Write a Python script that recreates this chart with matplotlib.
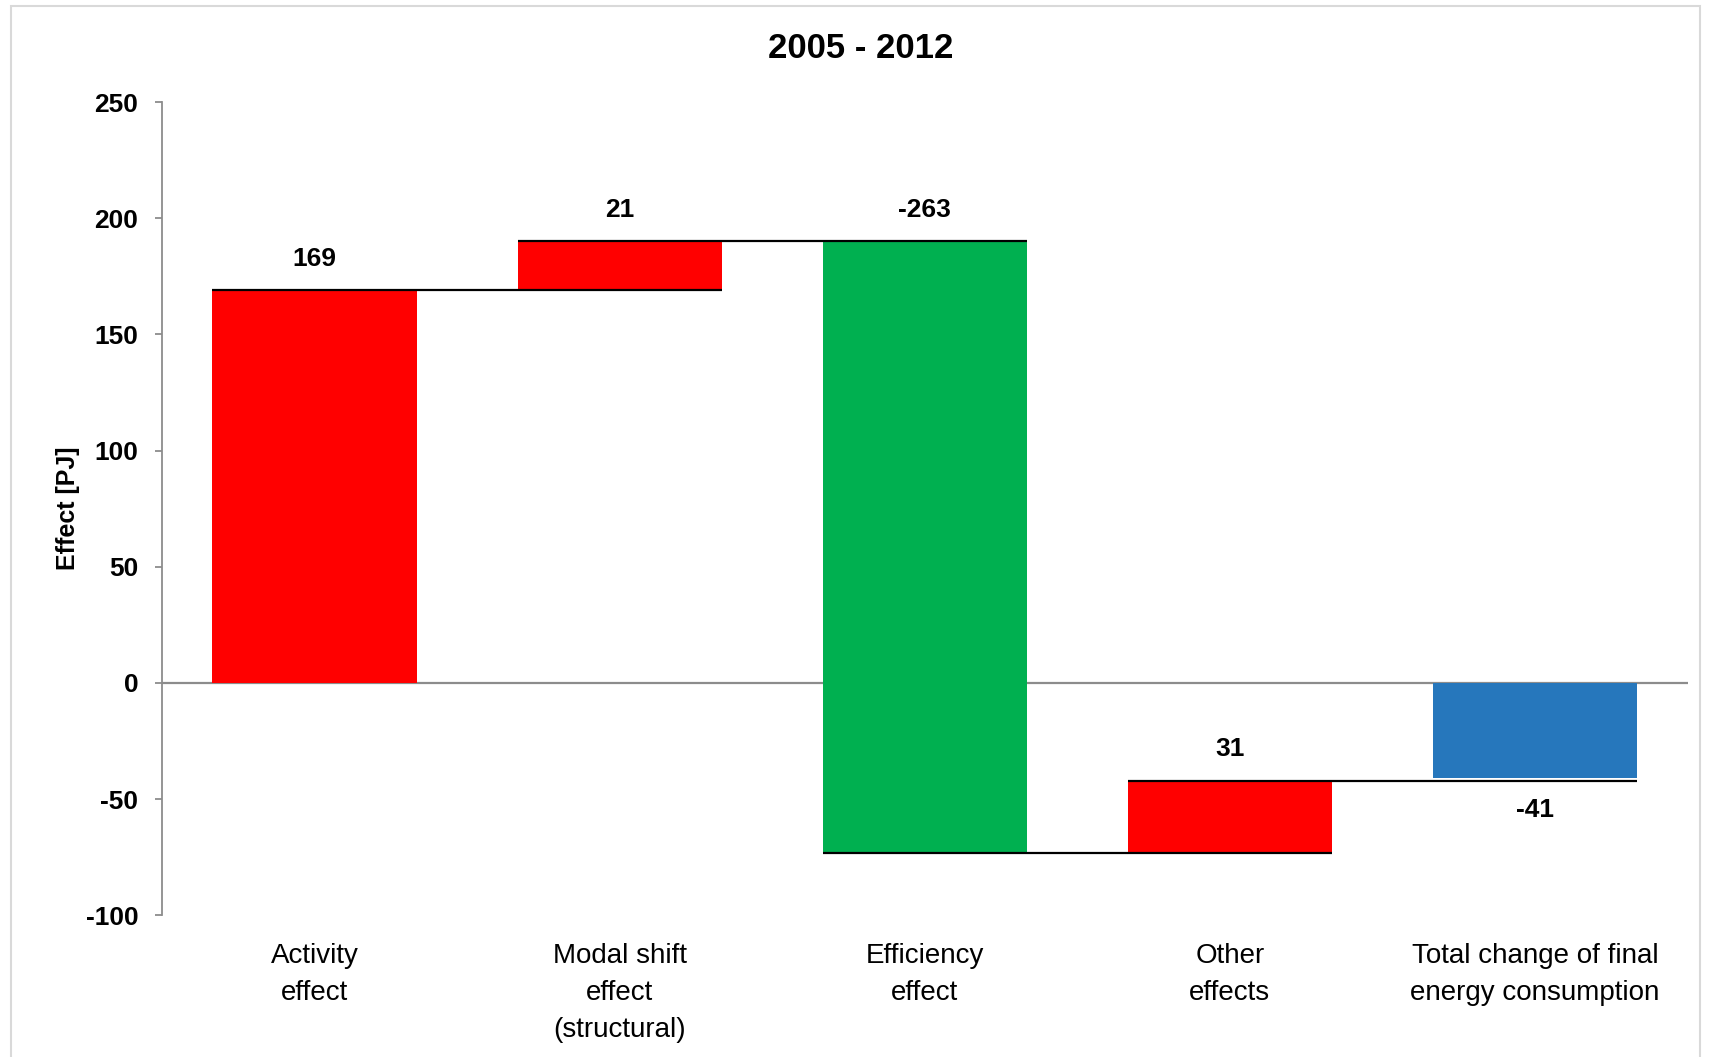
import matplotlib
matplotlib.use('Agg')
import matplotlib.pyplot as plt
from matplotlib.patches import Rectangle

plt.rcParams['font.family'] = ['Liberation Sans', 'DejaVu Sans']
plt.rcParams['axes.unicode_minus'] = False

title = '2005 - 2012'
categories = ['Activity\neffect', 'Modal shift\neffect\n(structural)', 'Efficiency\neffect',
              'Other\neffects', 'Total change of final\nenergy consumption']
effects = [169, 21, -263, 31]   # decomposition steps
total = -41                      # total change of final energy consumption
effect_colors = ['#ff0000', '#ff0000', '#00b050', '#ff0000']
total_color = '#2677bc'
yticks = [-100, -50, 0, 50, 100, 150, 200, 250]

fig = plt.figure(figsize=(17.15, 10.57), dpi=100)
ax = fig.add_axes([0.0945, 0.134, 0.8895, 0.7695])

# light chart-area border like in excel
fig.patches.append(Rectangle((0.0064, -0.05), 0.9848, 1.044, transform=fig.transFigure,
                             fill=False, edgecolor='#d9d9d9', linewidth=1.5))

w = 0.67
# running levels of the waterfall
levels = [0]
for e in effects:
    levels.append(levels[-1] + e)

for i, e in enumerate(effects):
    ax.bar(i, e, bottom=levels[i], width=w, color=effect_colors[i], zorder=2)
    top = max(levels[i], levels[i + 1])
    ax.annotate(str(e), (i, top), xytext=(0, 14), textcoords='offset points',
                ha='center', va='bottom', fontsize=19, fontweight='bold')

n = len(effects)
ax.bar(n, total, width=w, color=total_color, zorder=2)
ax.annotate(str(total), (n, min(0, total)), xytext=(0, -14), textcoords='offset points',
            ha='center', va='top', fontsize=19, fontweight='bold')

# connectors between the steps
for i in range(n):
    ax.hlines(levels[i + 1], i - w / 2, i + 1 + w / 2, color='black', lw=1.6, zorder=3)

ax.axhline(0, color='#8c8c8c', lw=1.6, zorder=1)

ax.set_xlim(-0.5, n + 0.5)
ax.set_ylim(yticks[0], yticks[-1])
ax.set_yticks(yticks)
ax.set_xticks(range(len(categories)))
ax.set_xticklabels(categories, fontsize=20, linespacing=1.55)
ax.tick_params(axis='x', length=0, pad=20)
ax.tick_params(axis='y', length=5, width=1.3, color='#8c8c8c', pad=12, labelsize=19)
for lab in ax.get_yticklabels():
    lab.set_fontweight('bold')

for s in ['top', 'right', 'bottom']:
    ax.spines[s].set_visible(False)
ax.spines['left'].set_color('#8c8c8c')
ax.spines['left'].set_linewidth(1.3)

ax.set_ylabel('Effect [PJ]', fontsize=18, fontweight='bold', labelpad=4)
fig.text(0.502, 0.954, title, ha='center', va='center', fontsize=25, fontweight='bold')

fig.savefig('out.png', dpi=100)
